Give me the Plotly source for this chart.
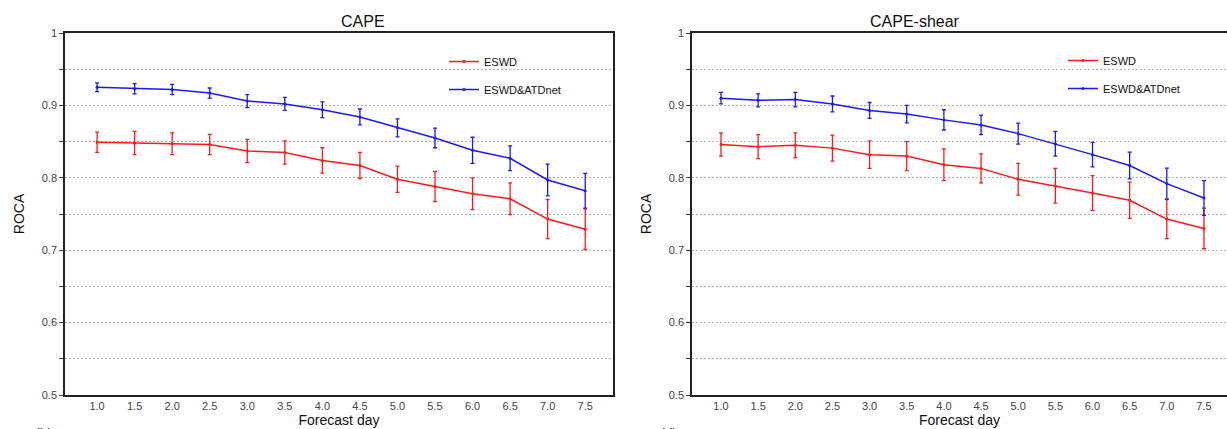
import plotly.graph_objects as go

days = [1.0, 1.5, 2.0, 2.5, 3.0, 3.5, 4.0, 4.5, 5.0, 5.5, 6.0, 6.5, 7.0, 7.5]
x_ticktext = ["1.0", "1.5", "2.0", "2.5", "3.0", "3.5", "4.0", "4.5", "5.0", "5.5", "6.0", "6.5", "7.0", "7.5"]
y_tickvals = [0.5, 0.6, 0.7, 0.8, 0.9, 1.0]
y_ticktext = ["0.5", "0.6", "0.7", "0.8", "0.9", "1"]
y_minorvals = [0.55, 0.65, 0.75, 0.85, 0.95]

# Panel 1: CAPE
cape_eswd = [0.849, 0.848, 0.847, 0.846, 0.837, 0.835, 0.824, 0.817, 0.798, 0.788, 0.778, 0.771, 0.743, 0.729]
cape_eswd_err = [0.014, 0.016, 0.015, 0.014, 0.016, 0.016, 0.0175, 0.018, 0.018, 0.021, 0.022, 0.022, 0.027, 0.028]
cape_atd = [0.925, 0.923, 0.922, 0.917, 0.906, 0.902, 0.894, 0.884, 0.869, 0.855, 0.838, 0.827, 0.797, 0.782]
cape_atd_err = [0.006, 0.007, 0.007, 0.007, 0.009, 0.009, 0.011, 0.011, 0.0125, 0.0135, 0.018, 0.017, 0.022, 0.024]

# Panel 2: CAPE-shear
shear_eswd = [0.846, 0.843, 0.845, 0.841, 0.832, 0.830, 0.818, 0.813, 0.798, 0.789, 0.779, 0.769, 0.743, 0.730]
shear_eswd_err = [0.016, 0.0165, 0.017, 0.018, 0.019, 0.020, 0.022, 0.020, 0.022, 0.024, 0.024, 0.025, 0.027, 0.028]
shear_atd = [0.910, 0.907, 0.908, 0.902, 0.893, 0.888, 0.880, 0.873, 0.861, 0.847, 0.832, 0.817, 0.792, 0.772]
shear_atd_err = [0.008, 0.009, 0.010, 0.011, 0.011, 0.012, 0.014, 0.0135, 0.0145, 0.017, 0.017, 0.0185, 0.0215, 0.024]

RED = "#ff1a1a"
BLUE = "#1a1aff"
FONT = "Liberation Sans, Arial, sans-serif"

fig = go.Figure()

def add(xa, ya, vals, errs, color, name, legend, group):
    fig.add_trace(go.Scatter(
        x=days, y=vals, mode="lines+markers", name=name,
        xaxis=xa, yaxis=ya, legend=legend, legendgroup=group,
        line=dict(color=color, width=1.5),
        marker=dict(color=color, size=3, symbol="circle"),
        error_y=dict(type="data", array=errs, visible=True, color=color, thickness=1.3, width=2),
    ))

add("x", "y", cape_eswd, cape_eswd_err, RED, "ESWD", "legend", "a1")
add("x", "y", cape_atd, cape_atd_err, BLUE, "ESWD&ATDnet", "legend", "a2")
add("x2", "y2", shear_eswd, shear_eswd_err, RED, "ESWD", "legend2", "b1")
add("x2", "y2", shear_atd, shear_atd_err, BLUE, "ESWD&ATDnet", "legend2", "b2")

W, H = 1227, 429
ydom = [(H - 395) / H, (H - 33) / H]
tickfont = dict(family=FONT, size=11, color="#444")
titlefont = dict(family=FONT, size=14, color="#111")
GRID = "#b4b4b4"
GDASH = "2px,2px"

def xaxis(domain, rng, anchor, mirror):
    return dict(domain=domain, range=rng, anchor=anchor, automargin=False,
                tickmode="array", tickvals=days, ticktext=x_ticktext,
                ticks="", tickfont=tickfont, showgrid=False, zeroline=False,
                showline=True, linecolor="#222", linewidth=1.5, mirror=mirror,
                title=dict(text="Forecast day", font=titlefont, standoff=2))

def yaxis(anchor, mirror):
    return dict(domain=ydom, range=[0.5, 1.0], anchor=anchor, automargin=False,
                tickmode="array", tickvals=y_tickvals, ticktext=y_ticktext,
                ticks="outside", ticklen=4, tickcolor="#444", tickfont=tickfont,
                showgrid=True, gridcolor=GRID, griddash=GDASH, gridwidth=1,
                minor=dict(tickvals=y_minorvals, ticks="outside", ticklen=4, tickcolor="#444",
                           showgrid=True, gridcolor=GRID, griddash=GDASH, gridwidth=1),
                zeroline=False, showline=True, linecolor="#222", linewidth=1.5, mirror=mirror,
                title=dict(text="ROCA", font=titlefont, standoff=14))

legfont = dict(family=FONT, size=11, color="#111")

fig.update_layout(
    width=W, height=H, margin=dict(l=0, r=0, t=0, b=0, autoexpand=False),
    paper_bgcolor="white", plot_bgcolor="white", showlegend=True,
    xaxis=xaxis([65 / W, 613 / W], [0.573, 7.87], "y", True),
    yaxis=yaxis("x", True),
    xaxis2=xaxis([692 / W, 1.0], [0.61, 7.81], "y2", True),
    yaxis2=yaxis("x2", False),
    legend=dict(x=444 / W, y=(H - 47) / H, xanchor="left", yanchor="top",
                bgcolor="rgba(0,0,0,0)", font=legfont, tracegroupgap=9),
    legend2=dict(x=1063 / W, y=(H - 46) / H, xanchor="left", yanchor="top",
                 bgcolor="rgba(0,0,0,0)", font=legfont, tracegroupgap=9),
    annotations=[
        dict(text="CAPE", x=339 / W, y=(H - 21) / H, xref="paper", yref="paper", yanchor="middle",
             showarrow=False, font=dict(family=FONT, size=16, color="#111")),
        dict(text="CAPE-shear", x=962 / W, y=(H - 21) / H, xref="paper", yref="paper", yanchor="middle",
             showarrow=False, font=dict(family=FONT, size=16, color="#111")),
        dict(text="(b)", x=33 / W, y=(H - 424) / H, xref="paper", yref="paper", xanchor="left", yanchor="top",
             showarrow=False, font=dict(family=FONT, size=14, color="#111")),
        dict(text="(d)", x=658 / W, y=(H - 424) / H, xref="paper", yref="paper", xanchor="left", yanchor="top",
             showarrow=False, font=dict(family=FONT, size=14, color="#111")),
    ],
)

fig.write_html("out.html", config={"displayModeBar": False},
               post_script="document.body.style.margin='0px'; document.body.style.overflow='hidden';")
